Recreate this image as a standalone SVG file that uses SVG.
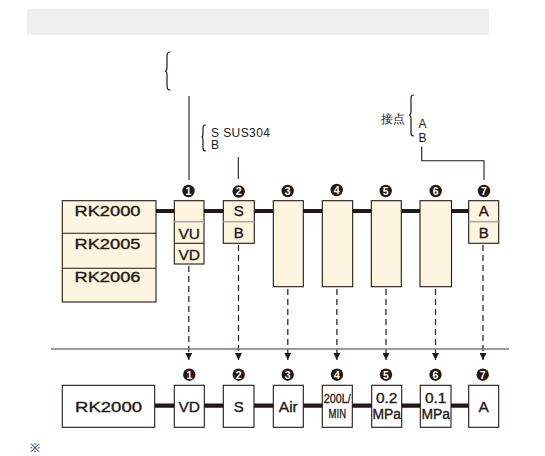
<svg xmlns="http://www.w3.org/2000/svg" width="545" height="456" viewBox="0 0 545 456">
<style>
.t{font-family:"Liberation Sans",Arial,sans-serif;fill:#231815}
.b{stroke:#231815;stroke-width:0.35}
.box{fill:#fdf5e0;stroke:#231815;stroke-width:1.1}
.wbox{fill:#ffffff;stroke:#231815;stroke-width:1.1}
.gdiv{stroke:#aaaaaa;stroke-width:1.6}
.bdiv{stroke:#231815;stroke-width:1.1}
.bus{stroke:#231815;stroke-width:4.2;fill:none}
.lead{stroke:#231815;stroke-width:1.1;fill:none}
.brace{stroke:#231815;stroke-width:1.2;fill:none;stroke-linecap:round}
.dash{stroke:#231815;stroke-width:1.2;fill:none;stroke-dasharray:6 4}
.num{fill:#231815}
.nt{font-family:"Liberation Sans",Arial,sans-serif;font-weight:bold;font-size:10.5px;fill:#ffffff;text-anchor:middle}
.c{text-anchor:middle}
</style>
<defs>
<marker id="arr" markerUnits="userSpaceOnUse" markerWidth="7" markerHeight="7" refX="6" refY="3" orient="auto" viewBox="0 0 6 6">
<path d="M0,0 L6,3 L0,6 Z" fill="#231815"/>
</marker>
</defs>
<rect x="27" y="9" width="462" height="26" fill="#eeefee"/>

<g id="brace-top">
<path class="brace" d="M170,52 Q167,52 167,56 L167,67 Q167,71 165,71 Q167,71 167,75 L167,86 Q167,90 170,90"/>
</g>

<g id="connectors">
<line class="bus" x1="156" y1="211" x2="469" y2="211"/>
<line class="bus" x1="155" y1="405.7" x2="469" y2="405.7"/>
<line class="lead" x1="189" y1="96" x2="189" y2="180"/>
<line class="lead" x1="238.3" y1="157" x2="238.3" y2="179"/>
<polyline class="lead" points="421.7,146.5 421.7,160.7 484,160.7 484,180"/>
<line class="dash" x1="188.8" y1="266" x2="188.8" y2="360" marker-end="url(#arr)"/>
<line class="dash" x1="238.5" y1="245" x2="238.5" y2="360" marker-end="url(#arr)"/>
<line class="dash" x1="287.8" y1="289" x2="287.8" y2="360" marker-end="url(#arr)"/>
<line class="dash" x1="336.9" y1="289" x2="336.9" y2="360" marker-end="url(#arr)"/>
<line class="dash" x1="386" y1="289" x2="386" y2="360" marker-end="url(#arr)"/>
<line class="dash" x1="435.5" y1="289" x2="435.5" y2="360" marker-end="url(#arr)"/>
<line class="dash" x1="483" y1="245" x2="483" y2="360" marker-end="url(#arr)"/>
<line x1="51" y1="349" x2="509" y2="349" stroke="#7a7a7a" stroke-width="1.3"/>
</g>

<g id="note-material">
<path class="brace" d="M205.5,125 Q203,125 203,128 L203,134 Q203,137 201.5,137 Q203,137 203,140 L203,148 Q203,151 205.5,151"/>
<text class="t" x="211" y="136.7" font-size="12" textLength="59" lengthAdjust="spacing">S SUS304</text>
<text class="t" x="211" y="149.3" font-size="12">B</text>
</g>

<g id="note-contact">
<text class="t" x="380.5" y="123" font-size="11.5" font-family="'Noto Sans CJK JP',sans-serif">接点</text>
<path class="brace" d="M413.5,95 Q411,95 411,98 L411,111 Q411,115 409,115 Q411,115 411,119 L411,133 Q411,136 413.5,136"/>
<text class="t" x="418.5" y="128" font-size="12">A</text>
<text class="t" x="418.5" y="141.7" font-size="12">B</text>
</g>

<g id="model-top">
<rect class="box" x="62.3" y="200.7" width="93.7" height="101.3"/>
<line class="bdiv" x1="62.3" y1="233.3" x2="156" y2="233.3"/>
<line class="bdiv" x1="62.3" y1="268.3" x2="156" y2="268.3"/>
<text class="t b c" x="107.5" y="215.7" font-size="14" textLength="66" lengthAdjust="spacingAndGlyphs">RK2000</text>
<text class="t b c" x="107.5" y="249" font-size="14" textLength="66" lengthAdjust="spacingAndGlyphs">RK2005</text>
<text class="t b c" x="107.5" y="282.3" font-size="14" textLength="66" lengthAdjust="spacingAndGlyphs">RK2006</text>
</g>

<g id="opt1-top">
<rect class="box" x="174.3" y="200.7" width="29.7" height="63.3"/>
<line class="gdiv" x1="174.3" y1="221.7" x2="204" y2="221.7"/>
<line class="bdiv" x1="174.3" y1="243.3" x2="204" y2="243.3"/>
<text class="t b c" x="189.2" y="238.5" font-size="15.5">VU</text>
<text class="t b c" x="189.2" y="260" font-size="15.5">VD</text>
<circle class="num" cx="188.5" cy="191" r="6.2"/><text class="nt" x="188.5" y="194.8">1</text>
</g>

<g id="opt2-top">
<rect class="box" x="223.3" y="200.7" width="31" height="42.6"/>
<line class="gdiv" x1="223.3" y1="221.7" x2="254.3" y2="221.7"/>
<text class="t b c" x="238.8" y="216.2" font-size="15">S</text>
<text class="t b c" x="238.8" y="237.5" font-size="15">B</text>
<circle class="num" cx="238.7" cy="191.5" r="6.2"/><text class="nt" x="238.7" y="195.3">2</text>
</g>

<g id="opt3-top">
<rect class="box" x="273.3" y="200.7" width="30" height="86"/>
<circle class="num" cx="287.7" cy="191" r="6.2"/><text class="nt" x="287.7" y="194.8">3</text>
</g>
<g id="opt4-top">
<rect class="box" x="322.3" y="200.7" width="30.4" height="86"/>
<circle class="num" cx="336.7" cy="190" r="6.2"/><text class="nt" x="336.7" y="193.8">4</text>
</g>
<g id="opt5-top">
<rect class="box" x="371.3" y="200.7" width="30" height="86"/>
<circle class="num" cx="385.7" cy="191" r="6.2"/><text class="nt" x="385.7" y="194.8">5</text>
</g>
<g id="opt6-top">
<rect class="box" x="420" y="200.7" width="31.5" height="86"/>
<circle class="num" cx="435.7" cy="191" r="6.2"/><text class="nt" x="435.7" y="194.8">6</text>
</g>
<g id="opt7-top">
<rect class="box" x="468.7" y="200.7" width="30" height="42.6"/>
<line class="gdiv" x1="468.7" y1="221.7" x2="498.7" y2="221.7"/>
<text class="t b c" x="483.7" y="216.2" font-size="15">A</text>
<text class="t b c" x="483.7" y="237.5" font-size="15">B</text>
<circle class="num" cx="484" cy="191" r="6.2"/><text class="nt" x="484" y="194.8">7</text>
</g>

<g id="model-bottom">
<rect class="wbox" x="62.3" y="385.3" width="92.4" height="42"/>
<text class="t b c" x="108.5" y="411.7" font-size="14" textLength="67" lengthAdjust="spacingAndGlyphs">RK2000</text>
</g>
<g id="opt1-bottom">
<rect class="wbox" x="174.3" y="385.3" width="30" height="42"/>
<text class="t b c" x="189.3" y="411.5" font-size="15.5">VD</text>
<circle class="num" cx="189.3" cy="374.7" r="6.2"/><text class="nt" x="189.3" y="378.5">1</text>
</g>
<g id="opt2-bottom">
<rect class="wbox" x="223.3" y="385.3" width="30.7" height="42"/>
<text class="t b c" x="238.7" y="411.5" font-size="15">S</text>
<circle class="num" cx="238.7" cy="374.7" r="6.2"/><text class="nt" x="238.7" y="378.5">2</text>
</g>
<g id="opt3-bottom">
<rect class="wbox" x="273.3" y="385.3" width="30" height="42"/>
<text class="t b c" x="288.3" y="411.5" font-size="15.5">Air</text>
<circle class="num" cx="287.7" cy="374.7" r="6.2"/><text class="nt" x="287.7" y="378.5">3</text>
</g>
<g id="opt4-bottom">
<rect class="wbox" x="322.3" y="385.3" width="30" height="42"/>
<text class="t b c" x="337.3" y="402.7" font-size="13.5" textLength="27" lengthAdjust="spacingAndGlyphs">200L/</text>
<text class="t b c" x="337.3" y="418.3" font-size="13.5" textLength="17.5" lengthAdjust="spacingAndGlyphs">MIN</text>
<circle class="num" cx="337" cy="374.7" r="6.2"/><text class="nt" x="337" y="378.5">4</text>
</g>
<g id="opt5-bottom">
<rect class="wbox" x="371.7" y="385.3" width="30" height="42"/>
<text class="t b c" x="386.7" y="403.3" font-size="15.5">0.2</text>
<text class="t b c" x="386.7" y="419.3" font-size="14" textLength="28.5" lengthAdjust="spacingAndGlyphs">MPa</text>
<circle class="num" cx="386" cy="374.7" r="6.2"/><text class="nt" x="386" y="378.5">5</text>
</g>
<g id="opt6-bottom">
<rect class="wbox" x="420.3" y="385.3" width="30.7" height="42"/>
<text class="t b c" x="435.7" y="403.3" font-size="15.5">0.1</text>
<text class="t b c" x="435.7" y="419.3" font-size="14" textLength="28.5" lengthAdjust="spacingAndGlyphs">MPa</text>
<circle class="num" cx="435.5" cy="374.7" r="6.2"/><text class="nt" x="435.5" y="378.5">6</text>
</g>
<g id="opt7-bottom">
<rect class="wbox" x="468.7" y="385.3" width="30" height="42"/>
<text class="t b c" x="483.7" y="411.7" font-size="15.5">A</text>
<circle class="num" cx="482.7" cy="374.7" r="6.2"/><text class="nt" x="482.7" y="378.5">7</text>
</g>

<text class="t" x="30" y="451.5" font-size="12" font-family="'Noto Sans CJK JP',sans-serif">※</text>
</svg>
